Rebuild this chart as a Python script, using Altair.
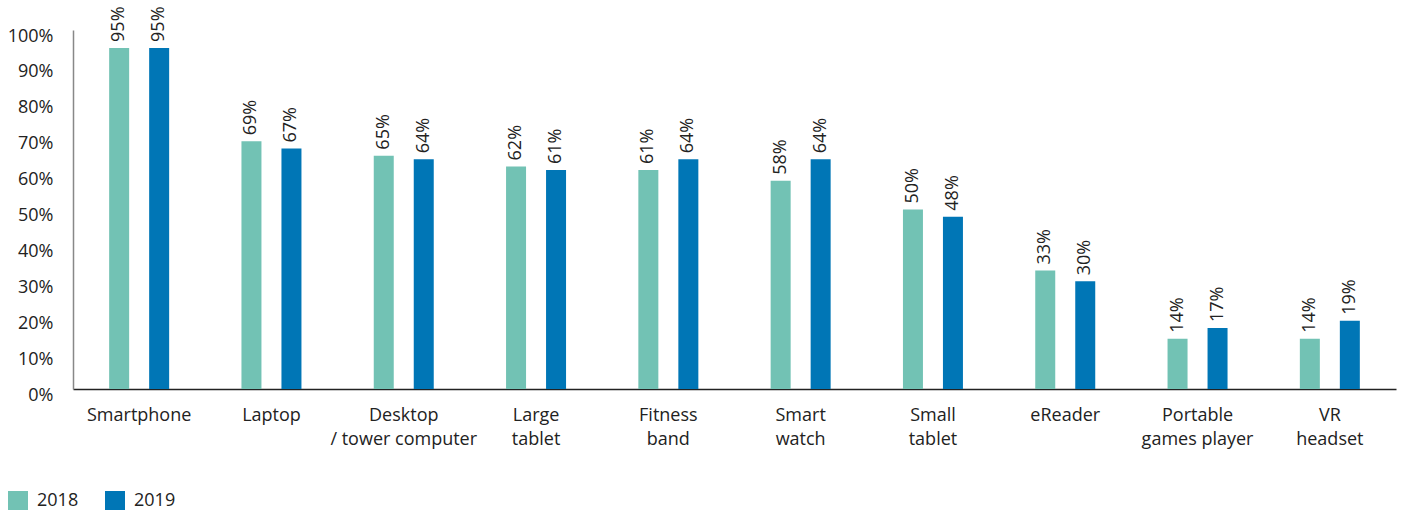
import altair as alt
import pandas as pd

# Device ownership share by year (percent); "|" marks a line break in the axis label
devices = [
    "Smartphone",
    "Laptop",
    "Desktop|/ tower computer",
    "Large|tablet",
    "Fitness|band",
    "Smart|watch",
    "Small|tablet",
    "eReader",
    "Portable|games player",
    "VR|headset",
]
share_2018 = [95, 69, 65, 62, 61, 58, 50, 33, 14, 14]
share_2019 = [95, 67, 64, 61, 64, 64, 48, 30, 17, 19]
years = ["2018", "2019"]
colors = ["#72C2B4", "#0076B6"]

rows = []
for dev, a, b in zip(devices, share_2018, share_2019):
    rows.append({"device": dev, "year": years[0], "share": a, "label": f"{a}%"})
    rows.append({"device": dev, "year": years[1], "share": b, "label": f"{b}%"})
df = pd.DataFrame(rows)

FONT = "Open Sans"
TEXT = "#222222"

x_enc = alt.X(
    "device:N",
    sort=devices,
    title=None,
    scale=alt.Scale(paddingInner=0.5465, paddingOuter=0.2733),
    axis=alt.Axis(
        labelExpr="split(datum.label, '|')",
        labelAngle=0,
        ticks=False,
        domainColor="#222222",
        domainWidth=1.5,
        labelFont=FONT,
        labelFontSize=18,
        labelColor=TEXT,
        labelPadding=17,
        labelLineHeight=24,
        labelBaseline="top",
    ),
)
x_off = alt.XOffset("year:N", sort=years, scale=alt.Scale(paddingInner=0.5, paddingOuter=0))
y_enc = alt.Y(
    "share:Q",
    title=None,
    scale=alt.Scale(domain=[0, 100], nice=False),
    axis=alt.Axis(
        values=list(range(0, 101, 10)),
        labelExpr="datum.value + '%'",
        grid=False,
        ticks=False,
        domainColor="#888888",
        domainWidth=1.5,
        labelFont=FONT,
        labelFontSize=18,
        labelColor=TEXT,
        labelPadding=20,
        labelOffset=6,
    ),
)

base = alt.Chart(df).encode(x=x_enc, xOffset=x_off, y=y_enc)

bars = base.mark_bar().encode(
    color=alt.Color(
        "year:N",
        sort=years,
        scale=alt.Scale(domain=years, range=colors),
        legend=alt.Legend(
            title=None,
            orient="none",
            legendX=-65,
            legendY=461,
            direction="horizontal",
            symbolType="square",
            symbolSize=400,
            symbolStrokeWidth=0,
            labelFont=FONT,
            labelFontSize=18,
            labelColor=TEXT,
            labelOffset=9,
            columnPadding=26,
            padding=0,
        ),
    )
)

labels = base.mark_text(
    angle=270,
    align="left",
    baseline="middle",
    dx=6,
    font=FONT,
    fontSize=18,
    color=TEXT,
).encode(text="label:N")

chart = (
    alt.layer(bars, labels)
    .properties(
        width=1323,
        height=359,
        padding={"left": 73, "top": 30, "right": 7, "bottom": 121},
        autosize=alt.AutoSizeParams(type="none"),
        view=alt.ViewBackground(stroke="transparent"),
    )
    .configure_view(stroke="transparent")
    .configure(background="white")
)

chart.save("out.html", embed_options={"renderer": "svg", "actions": False})
